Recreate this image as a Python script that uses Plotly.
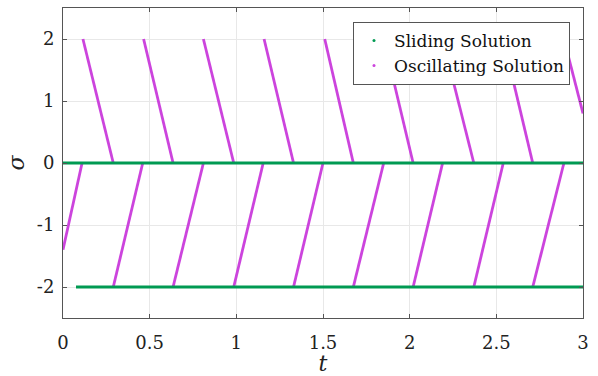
import plotly.graph_objects as go

# Sliding solution (two constant branches)
slide_t_0 = [0.0, 3.0]
slide_s_0 = [0.0, 0.0]
slide_t_m2 = [0.075, 3.0]
slide_s_m2 = [-2.0, -2.0]

# Oscillating solution: segment endpoints (None separates segments)
osc_t = [0.0, 0.11, None,
         0.115, 0.29, None, 0.29, 0.46, None,
         0.465, 0.635, None, 0.635, 0.81, None,
         0.81, 0.985, None, 0.985, 1.155, None,
         1.16, 1.33, None, 1.33, 1.50, None,
         1.51, 1.675, None, 1.675, 1.85, None,
         1.85, 2.02, None, 2.02, 2.19, None,
         2.19, 2.37, None, 2.37, 2.54, None,
         2.54, 2.71, None, 2.71, 2.89, None,
         2.89, 3.0]
osc_s = [-1.4, 0.0, None,
         2.0, 0.0, None, -2.0, 0.0, None,
         2.0, 0.0, None, -2.0, 0.0, None,
         2.0, 0.0, None, -2.0, 0.0, None,
         2.0, 0.0, None, -2.0, 0.0, None,
         2.0, 0.0, None, -2.0, 0.0, None,
         2.0, 0.0, None, -2.0, 0.0, None,
         2.0, 0.0, None, -2.0, 0.0, None,
         2.0, 0.0, None, -2.0, 0.0, None,
         2.0, 0.8]

x_ticks = [0, 0.5, 1, 1.5, 2, 2.5, 3]
x_labels = ["0", "0.5", "1", "1.5", "2", "2.5", "3"]
y_ticks = [-2, -1, 0, 1, 2]
y_labels = ["-2", "-1", "0", "1", "2"]

GREEN = "#009a52"
PINK = "#cc44dd"
FONT = "DejaVu Serif, Liberation Serif, serif"

fig = go.Figure()
fig.add_trace(go.Scatter(x=osc_t, y=osc_s, mode="lines",
                         line=dict(color=PINK, width=2.8), showlegend=False))
fig.add_trace(go.Scatter(x=slide_t_0, y=slide_s_0, mode="lines",
                         line=dict(color=GREEN, width=3.2), showlegend=False))
fig.add_trace(go.Scatter(x=slide_t_m2, y=slide_s_m2, mode="lines",
                         line=dict(color=GREEN, width=3.2), showlegend=False))
# legend entries (dot markers)
fig.add_trace(go.Scatter(x=[None], y=[None], mode="markers",
                         marker=dict(color=GREEN, size=3), name="Sliding Solution"))
fig.add_trace(go.Scatter(x=[None], y=[None], mode="markers",
                         marker=dict(color=PINK, size=3), name="Oscillating Solution"))

axis_common = dict(showgrid=True, gridcolor="#e8e8e8", gridwidth=1,
                   showline=True, linecolor="#555555", linewidth=1, mirror="ticks",
                   ticks="inside", ticklen=4, tickcolor="#555555", automargin=False,
                   zeroline=False, tickfont=dict(family=FONT, size=18, color="#222222"))

fig.update_layout(
    width=598, height=376,
    margin=dict(l=63, r=15, t=8, b=58),
    paper_bgcolor="white", plot_bgcolor="white",
    xaxis=dict(range=[0, 3], tickvals=x_ticks, ticktext=x_labels, ticklabelstandoff=8,
               title=dict(text="<i>t</i>", font=dict(family=FONT, size=22, color="#222222"), standoff=2),
               **axis_common),
    yaxis=dict(range=[-2.5, 2.5], tickvals=y_ticks, ticktext=y_labels, ticklabelstandoff=4,
               title=dict(text="<i>σ</i>", font=dict(family=FONT, size=22, color="#222222"), standoff=6),
               **axis_common),
    legend=dict(x=0.975, y=0.955, xanchor="right", yanchor="top",
                bgcolor="white", bordercolor="#555555", borderwidth=1,
                font=dict(family=FONT, size=17, color="#111111"),
                tracegroupgap=0, itemwidth=30),
    showlegend=True,
)

fig.write_html("out.html")
